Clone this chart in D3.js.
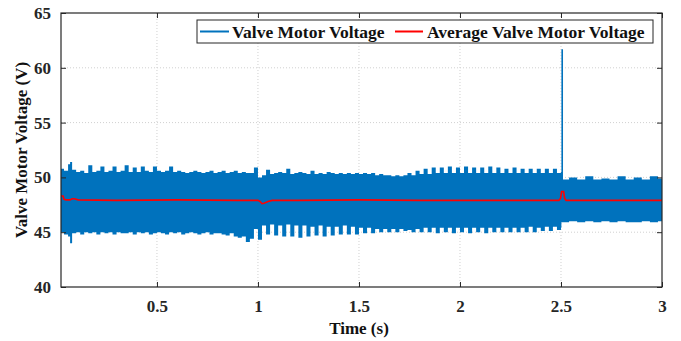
<!DOCTYPE html>
<html>
<head>
<meta charset="utf-8">
<script src="https://cdnjs.cloudflare.com/ajax/libs/d3/7.8.5/d3.min.js"></script>
<style>
  body { margin: 0; background: #fff; }
  svg text { font-family: "Liberation Serif", "Times New Roman", serif; font-weight: bold; }
</style>
</head>
<body>
<div id="chart"></div>
<script>
// tick labels
var xTicks = [0.5, 1, 1.5, 2, 2.5, 3];
var yTicks = [40, 45, 50, 55, 60, 65];

// envelope of the motor voltage band (V)
var bandTime = [0.025,0.04,0.06,0.07,0.08,0.10,0.12,0.14,0.16,0.18,0.20,0.22,0.24,0.26,0.28,0.30,0.32,0.34,0.36,0.38,
  0.40,0.42,0.44,0.46,0.48,0.50,0.52,0.54,0.56,0.58,0.60,0.62,0.64,0.66,0.68,0.70,0.72,0.74,0.76,0.78,
  0.80,0.82,0.84,0.86,0.88,0.90,0.92,0.94,0.96,0.98,1.00,1.02,1.04,1.06,1.08,1.10,1.12,1.14,1.16,1.18,
  1.20,1.22,1.24,1.26,1.28,1.30,1.32,1.34,1.36,1.38,1.40,1.42,1.44,1.46,1.48,1.50,1.52,1.54,1.56,1.58,
  1.60,1.62,1.64,1.66,1.68,1.70,1.72,1.74,1.76,1.78,1.80,1.82,1.84,1.86,1.88,1.90,1.92,1.94,1.96,1.98,
  2.00,2.02,2.04,2.06,2.08,2.10,2.12,2.14,2.16,2.18,2.20,2.22,2.24,2.26,2.28,2.30,2.32,2.34,2.36,2.38,
  2.40,2.42,2.44,2.46,2.48,2.50,2.502,2.51,2.54,2.58,2.62,2.66,2.70,2.74,2.78,2.82,2.86,2.90,2.94,2.98,3.00];
var bandUpper = [50.8,50.6,51.2,51.4,50.7,50.5,50.6,50.4,51.1,50.5,50.6,51.0,50.5,50.6,51.0,50.5,50.6,51.1,50.5,50.9,
  50.5,51.0,50.6,50.5,51.0,50.6,50.5,50.6,51.0,50.5,50.6,50.5,50.4,50.5,50.6,50.5,50.4,50.5,50.6,50.4,
  50.5,50.6,50.4,50.5,50.6,50.4,50.5,50.4,50.4,50.9,50.0,50.2,50.7,50.3,50.4,50.5,50.4,50.8,50.3,50.4,
  50.5,50.4,50.3,50.6,50.3,50.4,50.3,50.5,50.4,50.3,50.4,50.3,50.4,50.3,50.4,50.3,50.4,50.3,50.4,50.2,
  50.3,50.2,50.2,50.1,50.2,50.1,50.2,50.4,50.2,50.6,50.3,50.8,50.3,50.9,50.4,50.9,50.4,51.0,50.4,50.9,
  50.4,51.0,50.4,50.9,50.4,50.9,50.4,51.0,50.4,50.9,50.4,50.8,50.4,50.9,50.4,50.8,50.4,50.8,50.4,50.8,
  50.4,50.8,50.4,50.8,50.4,50.5,61.7,49.8,50.0,49.8,50.1,49.8,49.9,49.8,50.1,49.8,50.0,49.8,50.1,49.9,49.9];
var bandLower = [45.0,44.8,44.6,44.0,44.9,45.0,44.8,45.0,44.9,45.0,44.8,45.0,44.9,45.0,44.8,45.0,44.9,44.9,45.0,44.8,
  45.0,44.9,45.0,44.8,44.9,45.0,44.9,44.8,45.0,44.9,45.0,44.8,44.9,45.0,44.9,44.8,44.9,45.0,44.8,44.9,
  44.9,44.8,44.7,44.9,44.6,44.5,44.6,44.1,44.4,45.3,44.3,45.6,44.8,45.7,44.7,45.6,44.6,45.7,44.6,45.6,
  44.5,45.6,44.6,45.5,44.7,45.6,44.6,45.5,44.7,45.5,44.8,45.6,44.8,45.5,44.8,45.4,44.9,45.4,44.9,45.3,
  45.0,45.3,45.0,45.3,45.0,45.3,45.1,45.2,45.0,45.3,45.0,45.4,45.0,45.4,44.9,45.4,45.0,45.4,44.9,45.4,
  45.0,45.4,44.9,45.4,45.0,45.4,44.9,45.4,45.0,45.4,45.0,45.4,45.0,45.4,45.0,45.4,45.0,45.5,45.0,45.4,
  45.1,45.5,45.1,45.5,45.2,45.4,45.9,45.9,46.0,45.9,46.0,45.9,46.0,45.9,46.0,45.9,45.9,46.0,45.9,46.0,46.0];

// average valve motor voltage
var avgTime = [0.025,0.035,0.04,0.05,0.07,0.08,0.09,0.11,0.3,0.6,0.9,1.0,1.01,1.02,1.03,1.05,1.07,1.2,1.5,1.8,2.1,2.49,2.498,2.503,2.513,2.518,2.525,2.8,3.0];
var avgValue = [48.3,48.3,48.0,47.95,47.95,48.05,48.05,47.95,47.9,47.95,47.9,47.9,47.8,47.6,47.65,47.8,47.9,47.9,47.95,47.9,47.9,47.9,48.1,48.7,48.7,48.1,47.9,47.9,47.9];

var seriesNames = ["Valve Motor Voltage", "Average Valve Motor Voltage"];
var seriesColors = ["#0072BD", "#FF0000"];

var W = 681, H = 341;
var margin = {top: 13, right: 19, bottom: 54, left: 61};
var width = W - margin.left - margin.right,
    height = H - margin.top - margin.bottom;

var svg = d3.select("#chart").append("svg").attr("width", W).attr("height", H);
var g = svg.append("g").attr("transform", "translate(" + margin.left + "," + margin.top + ")");

var x = d3.scaleLinear().domain([0.025, 3]).range([0, width]);
var y = d3.scaleLinear().domain([40, 65]).range([height, 0]);

// grid
g.append("g").selectAll("line").data(xTicks.filter(function(d){ return d < 3; })).enter().append("line")
  .attr("x1", function(d){ return x(d); }).attr("x2", function(d){ return x(d); })
  .attr("y1", 0).attr("y2", height)
  .attr("stroke", "#d0d0d0").attr("stroke-width", 1).attr("stroke-dasharray", "1,2");
g.append("g").selectAll("line").data(yTicks.filter(function(d){ return d > 40 && d < 65; })).enter().append("line")
  .attr("y1", function(d){ return y(d); }).attr("y2", function(d){ return y(d); })
  .attr("x1", 0).attr("x2", width)
  .attr("stroke", "#d0d0d0").attr("stroke-width", 1).attr("stroke-dasharray", "1,2");

// band
var band = bandTime.map(function(t, i){ return {t: t, hi: bandUpper[i], lo: bandLower[i]}; });
var area = d3.area().curve(d3.curveStepAfter)
  .x(function(d){ return x(d.t); })
  .y0(function(d){ return y(d.lo); })
  .y1(function(d){ return y(d.hi); });
g.append("path").datum(band).attr("d", area).attr("fill", seriesColors[0]);

// average line
var avg = avgTime.map(function(t, i){ return {t: t, v: avgValue[i]}; });
var line = d3.line().x(function(d){ return x(d.t); }).y(function(d){ return y(d.v); });
g.append("path").datum(avg).attr("d", line).attr("fill", "none")
  .attr("stroke", seriesColors[1]).attr("stroke-width", 1.6);

// axes (box with inward ticks)
var axisColor = "#262626";
function styleAxis(sel) {
  sel.attr("font-family", null);
  sel.select(".domain").remove();
  sel.selectAll(".tick line").attr("stroke", axisColor);
  sel.selectAll(".tick text").attr("fill", axisColor).style("font-size", "17px");
}
g.append("g").attr("transform", "translate(0," + height + ")")
  .call(d3.axisBottom(x).tickValues(xTicks).tickSize(-5).tickPadding(13).tickFormat(d3.format("")))
  .call(styleAxis);
g.append("g")
  .call(d3.axisTop(x).tickValues(xTicks).tickSize(-5).tickFormat(""))
  .call(styleAxis);
g.append("g")
  .call(d3.axisLeft(y).tickValues(yTicks).tickSize(-5).tickPadding(10))
  .call(styleAxis);
g.append("g").attr("transform", "translate(" + width + ",0)")
  .call(d3.axisRight(y).tickValues(yTicks).tickSize(-5).tickFormat(""))
  .call(styleAxis);
g.append("rect").attr("width", width).attr("height", height)
  .attr("fill", "none").attr("stroke", axisColor).attr("stroke-width", 1.2);

// axis labels
svg.append("text").attr("x", margin.left + x(1.5)).attr("y", 334)
  .attr("text-anchor", "middle").style("font-size", "17px").attr("fill", "#111").text("Time (s)");
svg.append("text").attr("transform", "translate(27," + (margin.top + height / 2) + ") rotate(-90)")
  .attr("text-anchor", "middle").style("font-size", "17px").attr("fill", "#111").text("Valve Motor Voltage (V)");

// legend
var lg = svg.append("g");
lg.append("rect").attr("x", 197).attr("y", 20).attr("width", 456).attr("height", 23)
  .attr("fill", "#fff").attr("stroke", axisColor).attr("stroke-width", 1);
var legendX = [[200, 229, 232], [395, 423, 427]];
seriesNames.forEach(function(name, i) {
  lg.append("line").attr("x1", legendX[i][0]).attr("x2", legendX[i][1]).attr("y1", 31.5).attr("y2", 31.5)
    .attr("stroke", seriesColors[i]).attr("stroke-width", 2);
  lg.append("text").attr("x", legendX[i][2]).attr("y", 37.5).style("font-size", "17.5px").attr("fill", "#111").text(name);
});

svg.selectAll("text").attr("font-family", "Liberation Serif, serif").attr("font-weight", "bold");
</script>
</body>
</html>
